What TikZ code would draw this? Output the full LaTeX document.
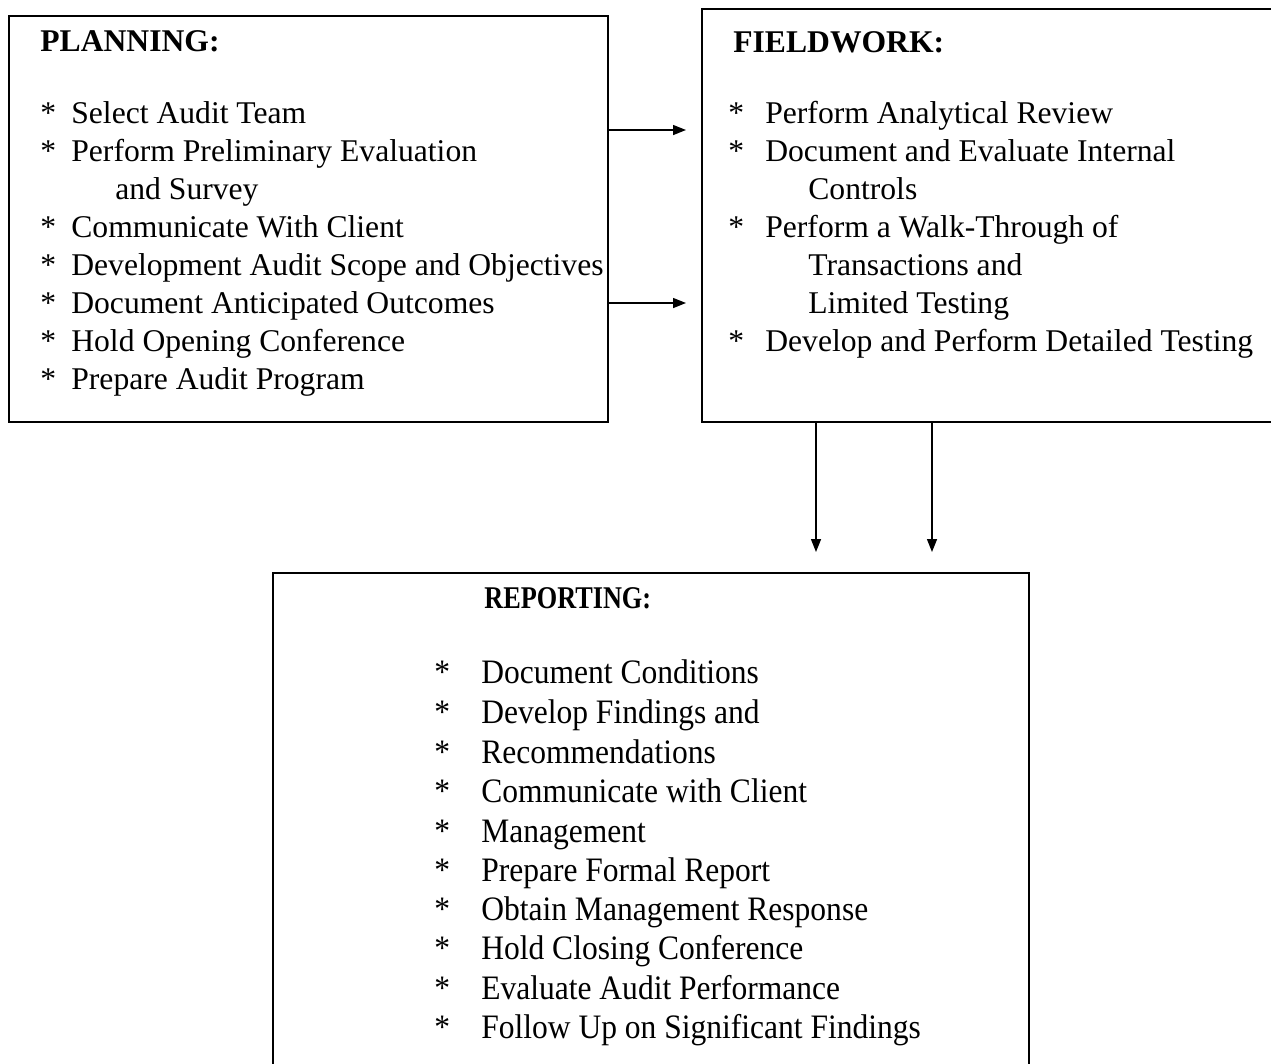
\documentclass[tikz,border=0pt]{standalone}
\usepackage{fontspec}
\setmainfont{Liberation Serif}
\newfontfamily\repfont[FakeStretch=0.92]{Liberation Serif}
\newfontfamily\repheadfont[FakeStretch=0.83]{Liberation Serif}
\usetikzlibrary{arrows.meta}

\newcommand\bul[1]{\makebox[#1][l]{*}}

\tikzset{
  box/.style={draw, line width=1pt, rectangle, anchor=north west, inner sep=0pt},
  txt/.style={anchor=base west, inner sep=0pt, font=\fontsize{18}{21.6}\selectfont},
  head/.style={txt, font=\fontsize{18}{21.6}\selectfont\bfseries},
  rtxt/.style={anchor=base west, inner sep=0pt, font=\repfont\fontsize{19.5}{22}\selectfont},
  rhead/.style={rtxt, font=\repheadfont\fontsize{18}{21.6}\selectfont\bfseries},
  arr/.style={-{Triangle[length=0.26cm,width=0.2cm]}, line width=0.8pt}
}

\begin{document}
\begin{tikzpicture}[x=0.02cm, y=-0.02cm]
  \useasboundingbox (0,0) rectangle (1271,1063);
  \clip (0,0) rectangle (1271,1063);

  % boxes
  \node[box, minimum width=11.98cm, minimum height=8.12cm] (plan) at (8,15) {};
  \node[box, minimum width=11.68cm, minimum height=8.26cm] (field) at (701,8) {};
  \node[box, minimum width=15.12cm, minimum height=10.16cm] (report) at (272,572) {};

  % planning
  \node[head] (ptitle) at (40,51) {PLANNING:};
  \node[txt] (p1) at (40,123) {\bul{0.62cm}Select Audit Team};
  \node[txt] (p2) at (40,161) {\bul{0.62cm}Perform Preliminary Evaluation};
  \node[txt] (p2b) at (115,199) {and Survey};
  \node[txt] (p3) at (40,237) {\bul{0.62cm}Communicate With Client};
  \node[txt] (p4) at (40,275) {\bul{0.62cm}Development Audit Scope and Objectives};
  \node[txt] (p5) at (40,313) {\bul{0.62cm}Document Anticipated Outcomes};
  \node[txt] (p6) at (40,351) {\bul{0.62cm}Hold Opening Conference};
  \node[txt] (p7) at (40,389) {\bul{0.62cm}Prepare Audit Program};

  % fieldwork
  \node[head] (ftitle) at (733,52) {FIELDWORK:};
  \node[txt] (f1) at (728,123) {\bul{0.74cm}Perform Analytical Review};
  \node[txt] (f2) at (728,161) {\bul{0.74cm}Document and Evaluate Internal};
  \node[txt] (f2b) at (808,199) {Controls};
  \node[txt] (f3) at (728,237) {\bul{0.74cm}Perform a Walk-Through of};
  \node[txt] (f3b) at (808,275) {Transactions and};
  \node[txt] (f3c) at (808,313) {Limited Testing};
  \node[txt] (f4) at (728,351) {\bul{0.74cm}Develop and Perform Detailed Testing};

  % reporting
  \node[rhead] (rtitle) at (484,608) {REPORTING:};
  \node[rtxt] (r1) at (434,683) {\bul{0.94cm}Document Conditions};
  \node[rtxt] (r2) at (434,723) {\bul{0.94cm}Develop Findings and};
  \node[rtxt] (r3) at (434,763) {\bul{0.94cm}Recommendations};
  \node[rtxt] (r4) at (434,802) {\bul{0.94cm}Communicate with Client};
  \node[rtxt] (r5) at (434,842) {\bul{0.94cm}Management};
  \node[rtxt] (r6) at (434,881) {\bul{0.94cm}Prepare Formal Report};
  \node[rtxt] (r7) at (434,920) {\bul{0.94cm}Obtain Management Response};
  \node[rtxt] (r8) at (434,959) {\bul{0.94cm}Hold Closing Conference};
  \node[rtxt] (r9) at (434,999) {\bul{0.94cm}Evaluate Audit Performance};
  \node[rtxt] (r10) at (434,1038) {\bul{0.94cm}Follow Up on Significant Findings};

  % connectors
  \draw[arr, shorten >=0.3cm] (plan.east |- 0,130) -- (field.west |- 0,130);
  \draw[arr, shorten >=0.3cm] (plan.east |- 0,303) -- (field.west |- 0,303);
  \draw[arr, shorten >=0.4cm] (field.south -| 816,0) -- (report.north -| 816,0);
  \draw[arr, shorten >=0.4cm] (field.south -| 932,0) -- (report.north -| 932,0);
\end{tikzpicture}
\end{document}
